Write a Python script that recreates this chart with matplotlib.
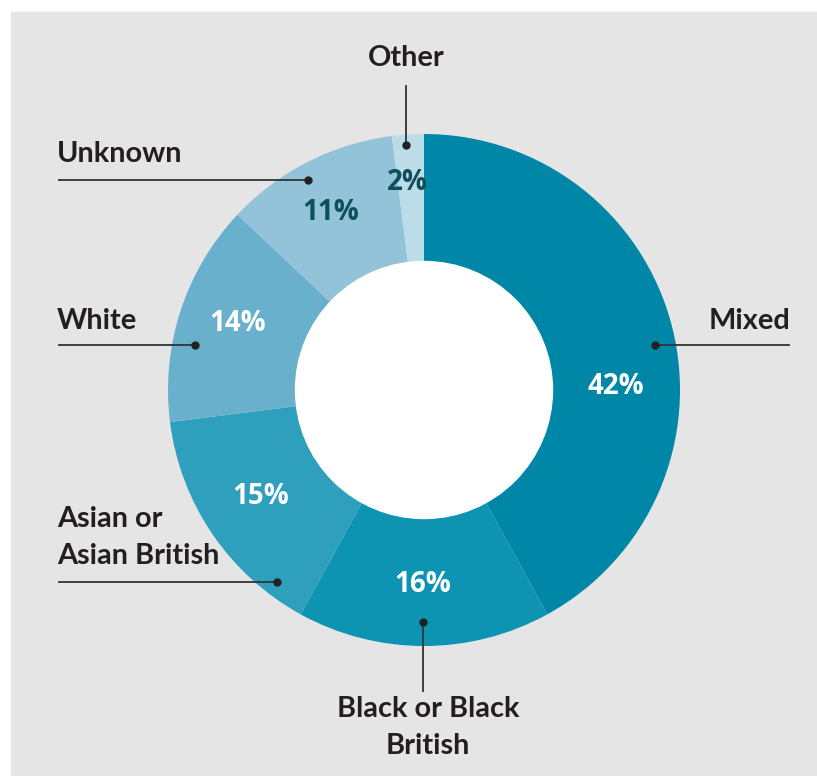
import matplotlib.pyplot as plt
from matplotlib.patches import Rectangle, Circle

# Share of group by ethnicity (%)
categories = ["Mixed", "Black or Black\nBritish", "Asian or\nAsian British", "White", "Unknown", "Other"]
shares = [42, 16, 15, 14, 11, 2]
colors = ["#0086a7", "#0e94b3", "#2ea0bd", "#68b0cb", "#93c3d8", "#bcdce8"]
pct_colors = ["white", "white", "white", "white", "#0f4f5a", "#0f4f5a"]

# layout in pixel units (y grows downwards)
W, H = 817, 776
CENTER = (424, 390)
R_OUT, R_IN = 256, 128
pct_xy = [(616, 394), (423, 592), (261, 504), (238, 331), (331, 220), (407, 190)]
dot_xy = [(655, 345), (423, 622), (277, 582), (195, 345), (308, 180), (406, 145)]
line_end = [(790, 345), (423, 692), (58, 582), (58, 345), (58, 180), (406, 85)]
label_xy = [(790, 329), (428, 696), (57, 506), (57, 329), (57, 162), (406, 66)]
label_ha = ["right", "center", "left", "left", "left", "center"]
label_va = ["baseline", "top", "top", "baseline", "baseline", "baseline"]

TEXT = "#231f20"

fig = plt.figure(figsize=(W / 100, H / 100), dpi=100)
ax = fig.add_axes([0, 0, 1, 1])
ax.add_patch(Rectangle((11, 12), W, H, color="#e5e5e5", zorder=0))

# y axis is inverted below, so counterclock=True runs clockwise on screen
ax.pie(shares, colors=colors, center=CENTER, radius=R_OUT, startangle=-90,
       counterclock=True, wedgeprops=dict(width=R_OUT - R_IN, linewidth=0))
ax.add_patch(Circle(CENTER, R_IN + 0.5, color="white", zorder=1))
ax.set_xlim(0, W)
ax.set_ylim(H, 0)
ax.axis("off")

for i, name in enumerate(categories):
    ax.text(*pct_xy[i], f"{shares[i]}%", ha="center", va="baseline",
            fontsize=20, fontweight="bold", family="Open Sans", color=pct_colors[i])
    ax.plot([dot_xy[i][0], line_end[i][0]], [dot_xy[i][1], line_end[i][1]],
            color="#333333", lw=1.3, solid_capstyle="butt")
    ax.plot(*dot_xy[i], "o", color="#222222", ms=5)
    ax.text(*label_xy[i], name, ha=label_ha[i], va=label_va[i], fontsize=20.8,
            fontweight="bold", family="Lato", color=TEXT, linespacing=1.5,
            multialignment=label_ha[i])

fig.savefig("out.png", dpi=100)
